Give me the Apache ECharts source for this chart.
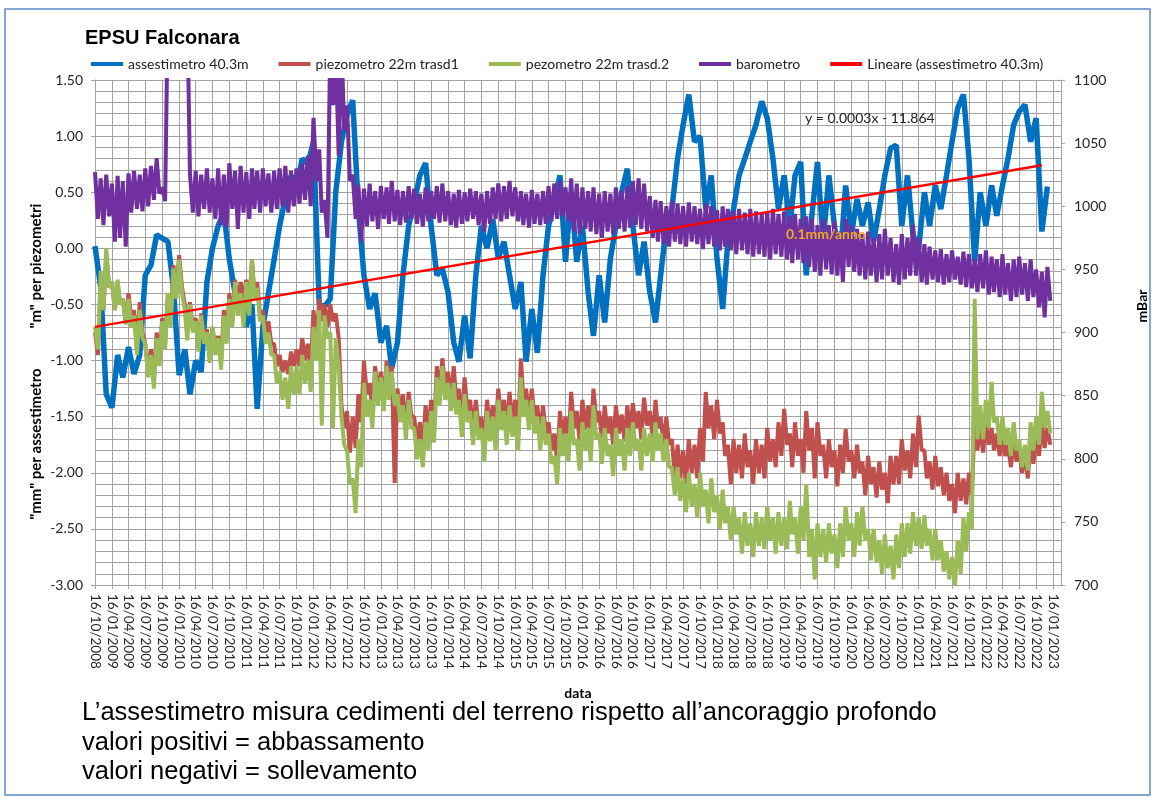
<!DOCTYPE html>
<html>
<head>
<meta charset="utf-8">
<title>EPSU Falconara</title>
<script src="https://cdn.jsdelivr.net/npm/echarts@6/dist/echarts.min.js"></script>
<style>
  html, body { margin: 0; padding: 0; background: #fff; }
  #chart { width: 1155px; height: 798px; }
</style>
</head>
<body>
<div id="chart"></div>
<script>
// Readings from 16/10/2008 to 12/2022, one row of 12 = one year starting in October.
// Noisy gauges are given as monthly high / low readings (high on the 16th, low on the 1st of the next month).
const START_YEAR = 2008, START_MONTH = 9; // October (0-based)
const seriesNames = [
  'assestimetro 40.3m',
  'piezometro 22m trasd1',
  'pezometro 22m trasd.2',
  'barometro',
  'Lineare (assestimetro 40.3m)'
];

// assestimetro 40.3m [mm], monthly
const assestimetro = [
  0.02, -0.35, -1.30, -1.42, -0.95, -1.15, -0.88, -1.12, -0.95, -0.24, -0.15, 0.12,
  0.09, 0.06, -0.35, -1.13, -0.90, -1.30, -1.00, -1.10, -0.30, 0.00, 0.20, 0.32,
  -0.10, -0.40, -0.35, -0.70, -0.50, -1.43, -0.70, -0.40, -0.10, 0.20, 0.45, 0.65,
  0.55, 0.80, 0.75, 0.95, -0.50, -0.52, -0.45, 0.50, 0.95, 1.19, 1.32, 0.35,
  -0.24, -0.54, -0.40, -0.84, -0.69, -1.07, -0.84, -0.24, 0.20, 0.41, 0.65, 0.76,
  0.20, -0.24, -0.18, -0.39, -0.84, -1.01, -0.60, -0.98, -0.24, 0.20, 0.00, 0.26,
  -0.09, 0.06, -0.24, -0.54, -0.30, -1.01, -0.54, -0.93, -0.24, 0.20, 0.41, 0.65,
  -0.12, 0.50, -0.12, 0.20, -0.39, -0.78, -0.24, -0.66, -0.09, 0.20, 0.50, 0.71,
  0.20, -0.24, 0.06, -0.39, -0.66, -0.24, 0.20, 0.35, 0.80, 1.10, 1.37, 0.95,
  1.00, 0.35, 0.65, -0.09, -0.54, 0.06, 0.35, 0.65, 0.80, 0.95, 1.10, 1.31,
  1.16, 0.80, 0.35, 0.65, 0.20, 0.65, 0.77, -0.24, 0.30, 0.77, 0.06, 0.65,
  0.20, -0.12, 0.56, 0.12, 0.44, 0.20, 0.41, 0.06, 0.35, 0.65, 0.89, 0.92,
  0.20, 0.65, 0.12, 0.00, 0.50, 0.20, 0.56, 0.35, 0.65, 0.95, 1.25, 1.37,
  0.80, -0.12, 0.50, 0.20, 0.56, 0.29, 0.56, 0.80, 1.10, 1.22, 1.28, 0.95,
  1.16, 0.15, 0.55
];

// piezometro 22m trasd1 [m], monthly high / low
const piezo1High = [
  -0.75, -0.30, -0.05, -0.30, -0.30, -0.45, -0.40, -0.55, -0.48, -0.85, -0.90, -0.75,
  -0.62, -0.40, -0.15, -0.06, -0.50, -0.48, -0.62, -0.58, -0.72, -0.70, -0.78, -0.55,
  -0.40, -0.28, -0.30, -0.28, -0.10, -0.30, -0.55, -0.65, -0.85, -0.95, -1.00, -0.92,
  -0.90, -0.80, -0.85, -0.55, -0.45, -0.50, -0.50, -0.58, -1.40, -1.45, -1.50, -1.30,
  -1.00, -1.20, -1.05, -1.10, -1.00, -1.05, -1.25, -1.30, -1.28, -1.50, -1.55, -1.40,
  -1.35, -1.05, -0.98, -1.10, -1.05, -1.25, -1.15, -1.35, -1.35, -1.50, -1.35, -1.40,
  -1.25, -1.35, -1.28, -1.35, -0.98, -1.25, -1.25, -1.40, -1.40, -1.55, -1.65, -1.45,
  -1.50, -1.28, -1.45, -1.35, -1.40, -1.25, -1.45, -1.40, -1.50, -1.40, -1.48, -1.40,
  -1.38, -1.45, -1.33, -1.45, -1.35, -1.50, -1.50, -1.70, -1.75, -1.80, -1.70, -1.75,
  -1.60, -1.28, -1.40, -1.35, -1.55, -1.75, -1.70, -1.75, -1.65, -1.80, -1.70, -1.75,
  -1.60, -1.70, -1.55, -1.43, -1.65, -1.55, -1.70, -1.45, -1.60, -1.55, -1.75, -1.70,
  -1.80, -1.75, -1.61, -1.80, -1.75, -1.90, -1.85, -1.95, -1.90, -2.00, -1.85, -1.85,
  -1.70, -1.80, -1.65, -1.49, -1.80, -1.90, -1.85, -1.95, -2.00, -2.10, -2.00, -2.05,
  -2.00, -1.52, -1.60, -1.55, -1.60, -1.65, -1.65, -1.75, -1.70, -1.80, -1.85, -1.70,
  -1.65, -1.55, -1.60
];
const piezo1Low = [
  -0.95, -0.55, -0.35, -0.55, -0.50, -0.65, -0.62, -0.90, -0.75, -1.10, -1.15, -1.00,
  -0.85, -0.65, -0.40, -0.35, -0.75, -0.72, -0.88, -0.82, -0.98, -0.90, -1.00, -0.80,
  -0.65, -0.55, -0.45, -0.50, -0.40, -0.60, -0.78, -0.85, -1.05, -1.10, -1.12, -1.05,
  -1.05, -1.00, -1.05, -0.85, -0.65, -0.70, -0.65, -0.80, -1.60, -1.82, -1.78, -1.55,
  -1.30, -1.45, -1.30, -1.38, -1.30, -2.09, -1.45, -1.60, -1.50, -1.75, -1.80, -1.65,
  -1.62, -1.30, -1.25, -1.35, -1.35, -1.55, -1.45, -1.62, -1.60, -1.75, -1.60, -1.65,
  -1.50, -1.60, -1.55, -1.62, -1.35, -1.50, -1.52, -1.65, -1.65, -1.80, -1.90, -1.70,
  -1.75, -1.60, -1.72, -1.62, -1.68, -1.55, -1.72, -1.65, -1.75, -1.65, -1.72, -1.65,
  -1.60, -1.70, -1.58, -1.70, -1.60, -1.75, -1.75, -2.05, -2.05, -2.10, -2.00, -2.05,
  -1.90, -1.60, -1.70, -1.65, -1.85, -2.10, -2.00, -2.05, -1.95, -2.10, -2.00, -2.05,
  -1.90, -1.95, -1.85, -1.75, -1.95, -1.85, -2.00, -1.80, -2.05, -1.85, -2.05, -1.95,
  -2.12, -2.00, -1.90, -2.05, -2.00, -2.20, -2.10, -2.22, -2.15, -2.27, -2.10, -2.10,
  -1.98, -2.05, -1.95, -1.80, -2.05, -2.15, -2.12, -2.20, -2.25, -2.36, -2.25, -2.28,
  -2.20, -1.80, -1.82, -1.75, -1.80, -1.85, -1.85, -1.95, -1.90, -2.00, -2.05, -1.92,
  -1.85, -1.78, -1.75
];

// pezometro 22m trasd.2 [m], monthly high / low
const piezo2High = [
  -0.70, -0.20, 0.00, -0.30, -0.28, -0.45, -0.45, -0.60, -0.55, -0.85, -0.95, -0.80,
  -0.65, -0.40, -0.18, -0.10, -0.55, -0.50, -0.65, -0.60, -0.75, -0.70, -0.80, -0.60,
  -0.45, -0.30, -0.40, -0.30, -0.10, -0.35, -0.60, -0.75, -0.95, -1.10, -1.15, -1.05,
  -1.05, -0.95, -1.00, -0.70, -0.55, -0.60, -0.75, -0.80, -1.50, -1.80, -2.05, -1.70,
  -1.20, -1.35, -1.10, -1.15, -1.05, -1.10, -1.30, -1.40, -1.35, -1.60, -1.70, -1.55,
  -1.45, -1.15, -1.05, -1.20, -1.20, -1.35, -1.30, -1.45, -1.45, -1.60, -1.45, -1.50,
  -1.35, -1.45, -1.40, -1.50, -1.15, -1.35, -1.35, -1.50, -1.50, -1.65, -1.85, -1.60,
  -1.65, -1.45, -1.70, -1.55, -1.60, -1.40, -1.65, -1.60, -1.75, -1.60, -1.70, -1.60,
  -1.55, -1.70, -1.60, -1.65, -1.55, -1.65, -1.70, -1.95, -1.95, -2.05, -2.00, -2.10,
  -2.00, -2.15, -2.05, -2.20, -2.15, -2.30, -2.30, -2.40, -2.35, -2.45, -2.35, -2.40,
  -2.30, -2.40, -2.35, -2.40, -2.25, -2.40, -2.30, -2.10, -2.50, -2.45, -2.50, -2.45,
  -2.55, -2.45, -2.30, -2.45, -2.35, -2.30, -2.50, -2.50, -2.60, -2.55, -2.65, -2.55,
  -2.45, -2.45, -2.35, -2.40, -2.38, -2.50, -2.50, -2.60, -2.70, -2.75, -2.60, -2.40,
  -2.35, -0.45, -1.40, -1.35, -1.19, -1.50, -1.50, -1.60, -1.55, -1.70, -1.75, -1.55,
  -1.50, -1.28, -1.45
];
const piezo2Low = [
  -0.90, -0.55, -0.35, -0.55, -0.50, -0.68, -0.70, -0.95, -0.80, -1.15, -1.25, -1.05,
  -0.90, -0.70, -0.45, -0.40, -0.82, -0.75, -0.92, -0.85, -1.02, -0.95, -1.08, -0.85,
  -0.70, -0.60, -0.70, -0.60, -0.45, -0.65, -0.85, -0.95, -1.20, -1.35, -1.43, -1.30,
  -1.30, -1.20, -1.28, -1.00, -1.58, -0.80, -1.60, -1.05, -1.75, -2.10, -2.36, -1.95,
  -1.50, -1.60, -1.40, -1.45, -1.35, -1.40, -1.55, -1.70, -1.60, -1.88, -1.95, -1.80,
  -1.73, -1.40, -1.35, -1.45, -1.48, -1.68, -1.55, -1.75, -1.70, -1.90, -1.72, -1.80,
  -1.62, -1.75, -1.68, -1.80, -1.50, -1.62, -1.65, -1.80, -1.75, -1.92, -2.10, -1.85,
  -1.90, -1.75, -1.98, -1.80, -1.90, -1.70, -1.92, -1.85, -2.03, -1.85, -1.98, -1.85,
  -1.80, -1.98, -1.85, -1.90, -1.80, -1.90, -1.95, -2.20, -2.25, -2.35, -2.30, -2.40,
  -2.30, -2.45, -2.35, -2.50, -2.45, -2.60, -2.55, -2.72, -2.65, -2.75, -2.65, -2.68,
  -2.60, -2.72, -2.65, -2.68, -2.55, -2.72, -2.60, -2.75, -2.95, -2.75, -2.80, -2.72,
  -2.85, -2.75, -2.60, -2.75, -2.65, -2.60, -2.78, -2.80, -2.90, -2.85, -2.95, -2.85,
  -2.75, -2.72, -2.65, -2.68, -2.65, -2.78, -2.78, -2.88, -2.95, -3.00, -2.90, -2.70,
  -2.50, -1.70, -1.70, -1.60, -1.55, -1.75, -1.75, -1.85, -1.80, -1.95, -1.98, -1.80,
  -1.75, -1.60, -1.65
];

// barometro [mBar], monthly high / low (values above 1100 fall outside the axis)
const baroHigh = [
  1027, 1022, 1025, 1018, 1024, 1020, 1026, 1028, 1025, 1030, 1032, 1038,
  1015, 1160, 1160, 1160, 1160, 1025, 1028, 1025, 1030, 1022, 1030, 1025,
  1034, 1028, 1032, 1027, 1030, 1028, 1030, 1026, 1028, 1030, 1032, 1028,
  1030, 1034, 1040, 1070, 1045, 1005, 1130, 1120, 1130, 1080, 1025, 1017,
  1014, 1018, 1012, 1016, 1015, 1020, 1013, 1012, 1016, 1014, 1010, 1015,
  1012, 1016, 1018, 1012, 1010, 1013, 1011, 1014, 1012, 1010, 1012, 1015,
  1018, 1016, 1020, 1015, 1012, 1010, 1013, 1010, 1012, 1016, 1018, 1020,
  1015, 1022, 1018, 1015, 1012, 1015, 1010, 1012, 1010, 1015, 1012, 1016,
  1020, 1022, 1018, 1008, 1005, 1004, 1000, 1004, 1002, 1000, 1003, 1000,
  998, 1002, 1000, 997, 1000, 998, 996, 998, 995, 998, 996, 994,
  995, 998, 994, 996, 992, 994, 990, 992, 990, 985, 990, 985,
  988, 980, 990, 985, 982, 978, 980, 975, 978, 982, 975, 970,
  978, 975, 985, 975, 970, 968, 965, 966, 962, 965, 960, 964,
  962, 958, 962, 965, 960, 958, 962, 955, 958, 960, 955, 958,
  950, 948, 952
];
const baroLow = [
  990, 985, 992, 972, 975, 968, 995, 998, 996, 1000, 1005, 1010,
  1004, 1160, 1160, 1160, 1160, 995, 992, 998, 995, 990, 985, 983,
  998, 982, 995, 990, 998, 995, 1000, 995, 998, 1000, 995, 1000,
  1002, 1005, 1000, 1020, 995, 975, 1080, 1040, 1060, 1020, 990, 972,
  984, 988, 982, 990, 986, 988, 985, 987, 990, 986, 984, 988,
  990, 987, 988, 985, 983, 986, 988, 990, 985, 980, 986, 990,
  988, 990, 992, 988, 985, 983, 986, 985, 986, 988, 990, 992,
  988, 980, 978, 982, 980, 978, 975, 980, 978, 982, 980, 983,
  985, 982, 980, 975, 972, 970, 968, 972, 970, 968, 972, 970,
  966, 970, 968, 965, 968, 965, 962, 965, 962, 960, 962, 960,
  958, 962, 960, 958, 955, 958, 955, 952, 948, 945, 950, 946,
  945, 940, 952, 948, 945, 942, 945, 940, 942, 945, 940, 938,
  942, 945, 945, 940, 938, 942, 940, 938, 940, 942, 938, 936,
  935, 932, 935, 930, 932, 928, 930, 925, 928, 930, 925, 928,
  920, 912, 925
];

// linear trend of the assestimetro (end points)
const trendDates = ['2008-10-16', '2022-11-16'];
const trendValues = [-0.70, 0.74];

// axis ranges
const leftAxis = { min: -3, max: 1.5, step: 0.5 };
const rightAxis = { min: 700, max: 1100, step: 50 };
const xRange = { min: '2008-10-16', max: '2023-02-28' };
const QUARTER_COUNT = 58; // quarterly tick labels, 16/10/2008 .. 16/01/2023

// ---- dates ----
function monthDay(i, day) {
  return new Date(START_YEAR, START_MONTH + i, day).getTime();
}
const tickDates = [];
for (let q = 0; q < QUARTER_COUNT; q++) tickDates.push(monthDay(q * 3, 16));

function monthly(values) {
  return values.map((v, i) => [monthDay(i, 16), v]);
}
function highLow(high, low) {
  const out = [];
  for (let i = 0; i < high.length; i++) {
    out.push([monthDay(i, 16), high[i]]);
    out.push([monthDay(i + 1, 1), low[i]]);
  }
  return out;
}
function pad(n) { return (n < 10 ? '0' : '') + n; }
function fmtDate(t) {
  const d = new Date(t);
  return pad(d.getDate()) + '/' + pad(d.getMonth() + 1) + '/' + d.getFullYear();
}
function parseDay(s) {
  const p = s.split('-').map(Number);
  return new Date(p[0], p[1] - 1, p[2]).getTime();
}

const FONT = 'Lato, "Open Sans", sans-serif';
const ARIAL = '"Liberation Sans", Arial, sans-serif';
const GRID_COLOR = '#a3a3a3';
const TEXT_COLOR = '#262626';

const chart = echarts.init(document.getElementById('chart'), null, { renderer: 'canvas' });

function lineSeries(name, data, color, width, axisIndex) {
  return {
    name: name,
    type: 'line',
    yAxisIndex: axisIndex,
    data: data,
    showSymbol: false,
    symbol: 'none',
    lineStyle: { color: color, width: width },
    itemStyle: { color: color },
    clip: true
  };
}

const option = {
  animation: false,
  backgroundColor: '#fff',
  title: {
    text: 'EPSU Falconara',
    left: 80,
    top: 23,
    textStyle: { fontFamily: ARIAL, fontWeight: 'bold', fontSize: 20, color: '#000' }
  },
  legend: {
    data: seriesNames,
    left: 86,
    top: 52,
    icon: 'rect',
    itemWidth: 32,
    itemHeight: 4,
    itemGap: 30,
    textStyle: { fontFamily: FONT, fontSize: 14, color: '#222' }
  },
  grid: { left: 95, right: 94, top: 80, bottom: 213, containLabel: false },
  xAxis: {
    type: 'value',
    min: parseDay(xRange.min),
    max: parseDay(xRange.max),
    name: 'data',
    nameLocation: 'middle',
    nameGap: 101,
    nameTextStyle: { fontFamily: FONT, fontWeight: 'bold', fontSize: 14, color: '#000' },
    axisLine: { onZero: false, lineStyle: { color: GRID_COLOR, width: 1 } },
    axisTick: { show: true, length: 4, customValues: tickDates, lineStyle: { color: GRID_COLOR } },
    axisLabel: {
      customValues: tickDates,
      rotate: -90,
      margin: 9,
      fontFamily: FONT,
      fontSize: 13.5,
      color: TEXT_COLOR,
      formatter: function (v) { return fmtDate(v); }
    },
    splitLine: { show: true, lineStyle: { color: GRID_COLOR, width: 1 } }
  },
  yAxis: [
    {
      type: 'value',
      min: leftAxis.min,
      max: leftAxis.max,
      interval: leftAxis.step,
      axisLine: { show: true, lineStyle: { color: GRID_COLOR } },
      axisTick: { show: true, length: 4, lineStyle: { color: GRID_COLOR } },
      axisLabel: {
        margin: 12,
        fontFamily: FONT,
        fontSize: 14,
        color: TEXT_COLOR,
        formatter: function (v) { return v.toFixed(2); }
      },
      splitLine: { show: true, lineStyle: { color: GRID_COLOR, width: 1 } },
      minorTick: { show: false, splitNumber: 5 },
      minorSplitLine: { show: true, lineStyle: { color: GRID_COLOR, width: 1 } }
    },
    {
      type: 'value',
      min: rightAxis.min,
      max: rightAxis.max,
      interval: rightAxis.step,
      position: 'right',
      axisLine: { show: true, lineStyle: { color: GRID_COLOR } },
      axisTick: { show: true, length: 4, lineStyle: { color: GRID_COLOR } },
      axisLabel: {
        margin: 13,
        fontFamily: FONT,
        fontSize: 14,
        color: TEXT_COLOR,
        formatter: function (v) { return String(v); }
      },
      splitLine: { show: false }
    }
  ],
  series: [
    lineSeries(seriesNames[0], monthly(assestimetro), '#0070C0', 5.5, 0),
    lineSeries(seriesNames[1], highLow(piezo1High, piezo1Low), '#C0504D', 4, 0),
    lineSeries(seriesNames[2], highLow(piezo2High, piezo2Low), '#9BBB59', 4, 0),
    lineSeries(seriesNames[3], highLow(baroHigh, baroLow), '#7030A0', 4, 1),
    {
      name: seriesNames[4],
      type: 'line',
      yAxisIndex: 0,
      data: trendDates.map((d, i) => [parseDay(d), trendValues[i]]),
      showSymbol: false,
      symbol: 'none',
      lineStyle: { color: '#FF0000', width: 2.5 },
      itemStyle: { color: '#FF0000' },
      z: 5
    }
  ],
  graphic: [
    {
      type: 'rect',
      shape: { x: 5, y: 9, width: 1145, height: 786 },
      style: { fill: 'none', stroke: '#5b8ac6', lineWidth: 1.5 },
      silent: true
    },
    {
      type: 'text',
      x: 36, y: 266,
      rotation: Math.PI / 2,
      style: { text: '"m" per piezometri', font: 'bold 15px ' + FONT, fill: '#000', textAlign: 'center', textVerticalAlign: 'middle' }
    },
    {
      type: 'text',
      x: 36, y: 444,
      rotation: Math.PI / 2,
      style: { text: '"mm" per assestimetro', font: 'bold 15px ' + FONT, fill: '#000', textAlign: 'center', textVerticalAlign: 'middle' }
    },
    {
      type: 'text',
      x: 1142, y: 306,
      rotation: Math.PI / 2,
      style: { text: 'mBar', font: 'bold 14px ' + FONT, fill: '#000', textAlign: 'center', textVerticalAlign: 'middle' }
    },
    {
      type: 'text',
      x: 805, y: 118,
      z: 10,
      style: { text: 'y = 0.0003x - 11.864', font: '14px ' + FONT, fill: '#222', textAlign: 'left', textVerticalAlign: 'middle' }
    },
    {
      type: 'text',
      x: 786, y: 234,
      z: 10,
      style: { text: '0.1mm/anno', font: 'bold 14px ' + FONT, fill: '#F0A820', textAlign: 'left', textVerticalAlign: 'middle' }
    },
    {
      type: 'text',
      x: 82, y: 713,
      style: {
        text: 'L\u2019assestimetro misura cedimenti del terreno rispetto all\u2019ancoraggio profondo',
        font: '25.5px ' + ARIAL, fill: '#000', textVerticalAlign: 'middle'
      }
    },
    {
      type: 'text',
      x: 82, y: 743,
      style: { text: 'valori positivi = abbassamento', font: '25.5px ' + ARIAL, fill: '#000', textVerticalAlign: 'middle' }
    },
    {
      type: 'text',
      x: 82, y: 772,
      style: { text: 'valori negativi = sollevamento', font: '25.5px ' + ARIAL, fill: '#000', textVerticalAlign: 'middle' }
    }
  ]
};

chart.setOption(option);
</script>
</body>
</html>
